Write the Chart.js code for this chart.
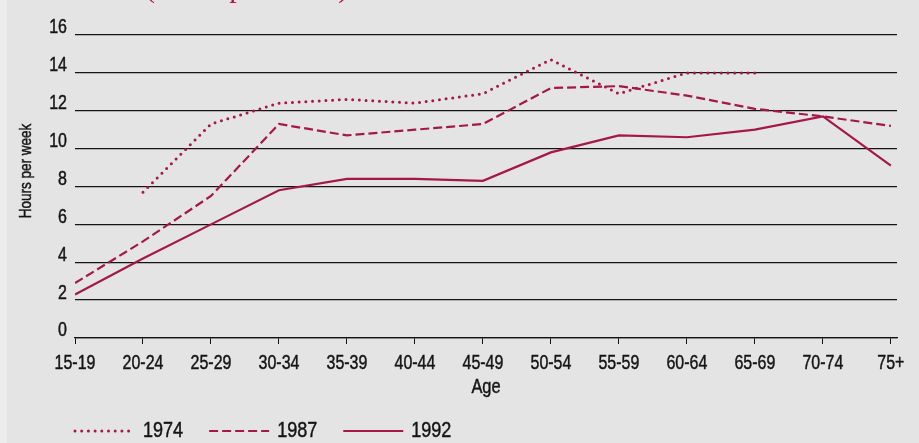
<!DOCTYPE html>
<html>
<head>
<meta charset="utf-8">
<script src="https://cdn.jsdelivr.net/npm/chart.js@4.4.1/dist/chart.umd.min.js"></script>
<style>
  html, body { margin: 0; padding: 0; background: #ececec; }
  #wrap { position: absolute; left: 7px; top: 0; width: 912px; height: 443px; background: #e4e4e4; }
</style>
</head>
<body>
<div id="wrap"><canvas id="chart"></canvas></div>
<script>
// Age groups along the horizontal axis
const ageGroups = ['15-19', '20-24', '25-29', '30-34', '35-39', '40-44', '45-49',
                   '50-54', '55-59', '60-64', '65-69', '70-74', '75+'];

// Hours per week by survey year (null = no data for that age group)
const hours1974 = [null, 7.7, 11.3, 12.4, 12.6, 12.4, 12.9, 14.7, 12.9, 14.0, 14.0, null, null];
const hours1987 = [2.9, 5.1, 7.5, 11.3, 10.7, 11.0, 11.3, 13.2, 13.3, 12.8, 12.1, 11.7, 11.2];
const hours1992 = [2.3, 4.2, 6.0, 7.8, 8.4, 8.4, 8.3, 9.8, 10.7, 10.6, 11.0, 11.7, 9.1];

const seriesYears = ['1974', '1987', '1992'];
const yTicks = [0, 2, 4, 6, 8, 10, 12, 14, 16];

const headingText = '(hours per week)';
const yAxisTitle = 'Hours per week';
const xAxisTitle = 'Age';

const LINE = '#a5174b';
const INK = '#141414';
const SANS = '"Liberation Sans", Arial, sans-serif';
const NARROW = 0.82;   // horizontal squeeze for a condensed look

const toPoints = arr => arr.map((v, i) => ({ x: i, y: v }));

// Page offset of the canvas (light strip on the far left)
const OFF = 7;

function narrowText(ctx, text, x, y, align, size) {
  ctx.save();
  ctx.translate(x, y);
  ctx.scale(NARROW, 1);
  ctx.font = size + 'px ' + SANS;
  ctx.textAlign = align;
  ctx.textBaseline = 'middle';
  ctx.fillStyle = INK;
  ctx.strokeStyle = INK;
  ctx.lineWidth = 0.45;
  ctx.fillText(text, 0, 0);
  ctx.strokeText(text, 0, 0);
  ctx.restore();
}

const textPlugin = {
  id: 'chartText',
  afterDraw(chart) {
    const ctx = chart.ctx;
    const xs = chart.scales.x, ys = chart.scales.y;
    ctx.save();

    // Tick labels, placed through the scales
    xs.ticks.forEach(t => {
      narrowText(ctx, ageGroups[t.value], xs.getPixelForValue(t.value), 364, 'center', 19.5);
    });
    ys.ticks.forEach(t => {
      narrowText(ctx, String(t.value), ys.left + ys.width - 8, ys.getPixelForValue(t.value) - 7, 'right', 19.5);
    });

    // Vertical axis title
    ctx.save();
    ctx.translate(26 - OFF, 171);
    ctx.rotate(-Math.PI / 2);
    narrowText(ctx, yAxisTitle, 0, 0, 'center', 16.5);
    ctx.restore();

    // Horizontal axis title
    narrowText(ctx, xAxisTitle, (chart.chartArea.left + chart.chartArea.right) / 2, 387, 'center', 20);

    // Heading, mostly above the top edge
    ctx.fillStyle = '#b0154c';
    ctx.font = '30px "Liberation Serif", serif';
    ctx.textAlign = 'left';
    ctx.textBaseline = 'alphabetic';
    ctx.fillText(headingText, 145 - OFF, -3);

    // Legend
    let x = 75 - OFF;
    const y = 431;
    chart.data.datasets.forEach(ds => {
      ctx.save();
      ctx.strokeStyle = ds.borderColor;
      ctx.lineWidth = ds.borderWidth;
      ctx.lineCap = ds.borderCapStyle || 'butt';
      ctx.setLineDash(ds.borderDash || []);
      ctx.beginPath();
      ctx.moveTo(x, y);
      ctx.lineTo(x + 60, y);
      ctx.stroke();
      ctx.restore();
      narrowText(ctx, ds.label, x + 68, y, 'left', 22);
      ctx.font = '22px ' + SANS;
      x += 68 + ctx.measureText(ds.label).width * NARROW + 26;
    });
    ctx.restore();
  }
};

new Chart(document.getElementById('chart'), {
  type: 'line',
  data: {
    datasets: [
      { label: seriesYears[0], data: toPoints(hours1974), borderColor: LINE, borderWidth: 3,
        borderDash: [0, 6.7], borderCapStyle: 'round', pointRadius: 0, spanGaps: false },
      { label: seriesYears[1], data: toPoints(hours1987), borderColor: LINE, borderWidth: 2.2,
        borderDash: [9, 4], pointRadius: 0 },
      { label: seriesYears[2], data: toPoints(hours1992), borderColor: LINE, borderWidth: 2.2,
        pointRadius: 0 }
    ]
  },
  options: {
    responsive: true,
    maintainAspectRatio: false,
    animation: false,
    layout: { padding: { top: 35, right: 22, left: 0, bottom: 0 } },
    plugins: { legend: { display: false }, tooltip: { enabled: false } },
    elements: { line: { tension: 0, fill: false } },
    scales: {
      x: {
        type: 'linear',
        min: 0,
        max: 12.09,
        afterBuildTicks: s => { s.ticks = ageGroups.map((_, i) => ({ value: i })); },
        afterFit: s => { s.height = 443 - 338; },
        grid: { drawOnChartArea: false, drawTicks: true, tickLength: 6, color: INK, lineWidth: 1 },
        border: { display: true, color: INK, width: 1.3 },
        ticks: { display: false, autoSkip: false, maxRotation: 0 }
      },
      y: {
        min: 0,
        max: 16,
        afterBuildTicks: s => { s.ticks = yTicks.map(v => ({ value: v })); },
        afterFit: s => { s.width = 75 - OFF; },
        grid: { drawTicks: false, color: INK, lineWidth: 1.3 },
        border: { display: false },
        ticks: { display: false }
      }
    }
  },
  plugins: [textPlugin]
});
</script>
</body>
</html>
